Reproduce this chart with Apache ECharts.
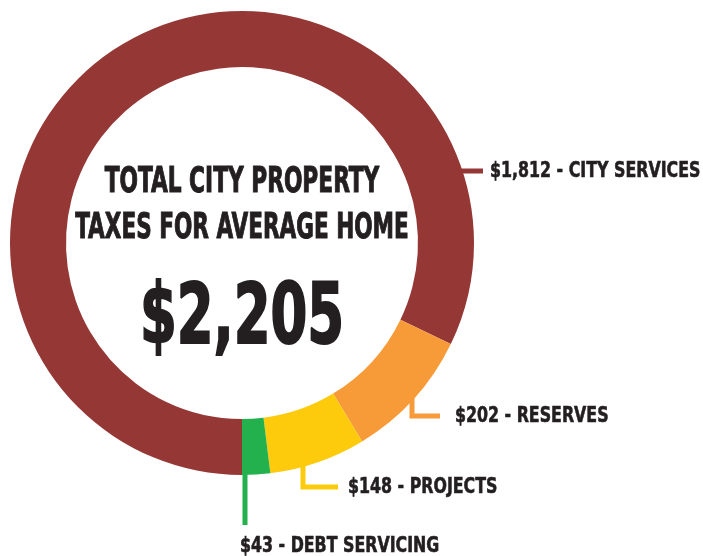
<!DOCTYPE html>
<html>
<head>
<meta charset="utf-8">
<script src="https://cdn.jsdelivr.net/npm/echarts@6/dist/echarts.min.js"></script>
<style>
  html, body { margin: 0; padding: 0; background: #fff; }
  #main { width: 703px; height: 556px; }
</style>
</head>
<body>
<div id="main"></div>
<script>
// 数据
const categories = ['CITY SERVICES', 'RESERVES', 'PROJECTS', 'DEBT SERVICING'];
const amounts = [1812, 202, 148, 43];
const amountLabels = ['$1,812', '$202', '$148', '$43'];
const totalLabel = '$2,205';
const titleLines = ['TOTAL CITY PROPERTY', 'TAXES FOR AVERAGE HOME'];

const colors = ['#953735', '#F79A38', '#FDCB0B', '#23B14D'];
const textColor = '#231f20';
const fontFamily = '"DejaVu Sans Condensed", "DejaVu Sans", sans-serif';
const cx = 242, cy = 243, rIn = 176, rOut = 232;

// 标签位置 + 引导线（竖线 x 或 横线）
const labelPos = [
  { x: 490, y: 171, lineEnd: 483 },
  { x: 455, y: 416, lineX: 412, lineEnd: 440 },
  { x: 348, y: 487, lineX: 303, lineEnd: 338 },
  { x: 240, y: 546, lineX: 245, lineEnd: 525 }
];

function linePoints(i) {
  const p = labelPos[i];
  if (p.lineX == null) {
    // 水平引导线，从圆环外边开始
    const sx = cx + Math.sqrt(rOut * rOut - (p.y - cy) * (p.y - cy)) - 3;
    return [[sx, p.y], [(sx + p.lineEnd) / 2, p.y], [p.lineEnd, p.y]];
  }
  const sy = cy + Math.sqrt(rOut * rOut - (p.lineX - cx) * (p.lineX - cx)) - 4;
  if (i === 3) {
    return [[p.lineX, sy], [p.lineX, p.lineEnd - 1], [p.lineX, p.lineEnd]];
  }
  return [[p.lineX, sy], [p.lineX, p.y], [p.lineEnd, p.y]];
}

// 窄体字没有，只能用 scaleX 压扁，再描一点边加粗
function condensedText(text, x, y, size, align, sx, stroke) {
  return {
    type: 'text',
    x: x,
    y: y,
    scaleX: sx,
    silent: true,
    style: {
      text: text,
      fill: textColor,
      stroke: textColor,
      lineWidth: stroke,
      font: 'bold ' + size + 'px ' + fontFamily,
      align: align,
      verticalAlign: 'middle'
    }
  };
}

const graphics = [
  condensedText(titleLines[0], cx, 183, 35, 'center', 0.69, 1),
  condensedText(titleLines[1], cx, 229, 35, 'center', 0.685, 1),
  condensedText(totalLabel, cx, 321, 84, 'center', 0.70, 2)
];
categories.forEach(function (name, i) {
  graphics.push(condensedText(amountLabels[i] + ' - ' + name, labelPos[i].x, labelPos[i].y, 22, 'left', 0.80, 0.6));
});

const myChart = echarts.init(document.getElementById('main'));
const option = {
  backgroundColor: '#fff',
  graphic: graphics,
  series: [
    {
      type: 'pie',
      center: [cx, cy],
      radius: [rIn, rOut],
      startAngle: 270,
      clockwise: true,
      avoidLabelOverlap: false,
      silent: true,
      itemStyle: { borderWidth: 0 },
      // 文字由 graphic 画，这里只留引导线
      label: {
        show: true,
        position: 'outside',
        formatter: function (p) {
          return amountLabels[p.dataIndex] + ' - ' + p.name;
        },
        fontSize: 22,
        color: 'rgba(0,0,0,0)'
      },
      labelLine: {
        show: true,
        lineStyle: { width: 5 }
      },
      labelLayout: function (params) {
        const p = labelPos[params.dataIndex];
        return {
          x: p.x,
          y: p.y,
          align: 'left',
          verticalAlign: 'middle',
          labelLinePoints: linePoints(params.dataIndex)
        };
      },
      data: categories.map(function (name, i) {
        return { name: name, value: amounts[i], itemStyle: { color: colors[i] } };
      })
    }
  ]
};
myChart.setOption(option);
</script>
</body>
</html>
